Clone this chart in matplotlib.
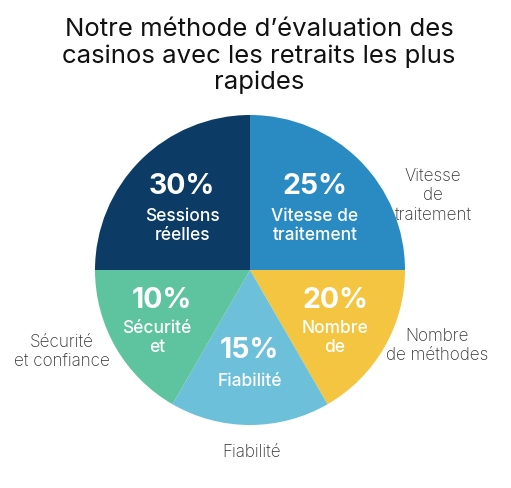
import matplotlib.pyplot as plt

# shares written on the wedges, and wedge sizes as drawn (in degrees)
categories = ["Vitesse de traitement", "Nombre de méthodes", "Fiabilité",
              "Sécurité et confiance", "Sessions réelles"]
shares = [25, 20, 15, 10, 30]
wedge_deg = [90, 60, 60, 60, 90]
inner_names = ["Vitesse de\ntraitement", "Nombre\nde", "Fiabilité",
               "Sécurité\net", "Sessions\nréelles"]
outer_names = ["Vitesse\nde\ntraitement", "Nombre\nde méthodes", "Fiabilité",
               "Sécurité\net confiance", ""]
colors = ["#2a8bc2", "#f3c540", "#6dc0d9", "#5ec39f", "#0c3c66"]

plt.rcParams['font.family'] = ['Inter', 'DejaVu Sans']

fig = plt.figure(figsize=(5.11, 4.88), dpi=100)
ax = fig.add_axes([0, 0, 1, 1])

cx, cy, r = 250, 270, 155
# y axis is flipped, so counterclock=True runs clockwise on screen
ax.pie(wedge_deg, colors=colors, startangle=-90, counterclock=True,
       center=(cx, cy), radius=r, frame=True,
       wedgeprops=dict(linewidth=0))
ax.set_xlim(0, 511)
ax.set_ylim(488, 0)
ax.set_aspect('equal')
ax.axis('off')

# inner label anchor points (percentage, name)
pct_pos = [(315, 186), (335, 300), (249, 351), (162, 300), (182, 186)]
name_pos = [(315, 226), (335, 338), (250, 382), (157, 338), (182, 226)]
for s, nm, pp, np_ in zip(shares, inner_names, pct_pos, name_pos):
    ax.text(pp[0], pp[1], f"{s}%", color="white", fontsize=20.5,
            fontweight="bold", ha="center", va="center")
    ax.text(np_[0], np_[1], nm, color="white", fontsize=12.5,
            fontweight="medium", ha="center", va="center", linespacing=1.15)

outer_pos = [(433, 196), (437, 346), (252, 452), (62, 352), (0, 0)]
for nm, op in zip(outer_names, outer_pos):
    if nm:
        ax.text(op[0], op[1], nm, color="#333333", fontsize=12.3,
                fontweight="light", ha="center", va="center", linespacing=1.2)

ax.text(259, 56, "Notre méthode d’évaluation des\ncasinos avec les retraits les plus\nrapides",
        fontsize=18.5, ha="center", va="center", color="#111111", linespacing=1.15)

fig.savefig("out.png", dpi=100)
